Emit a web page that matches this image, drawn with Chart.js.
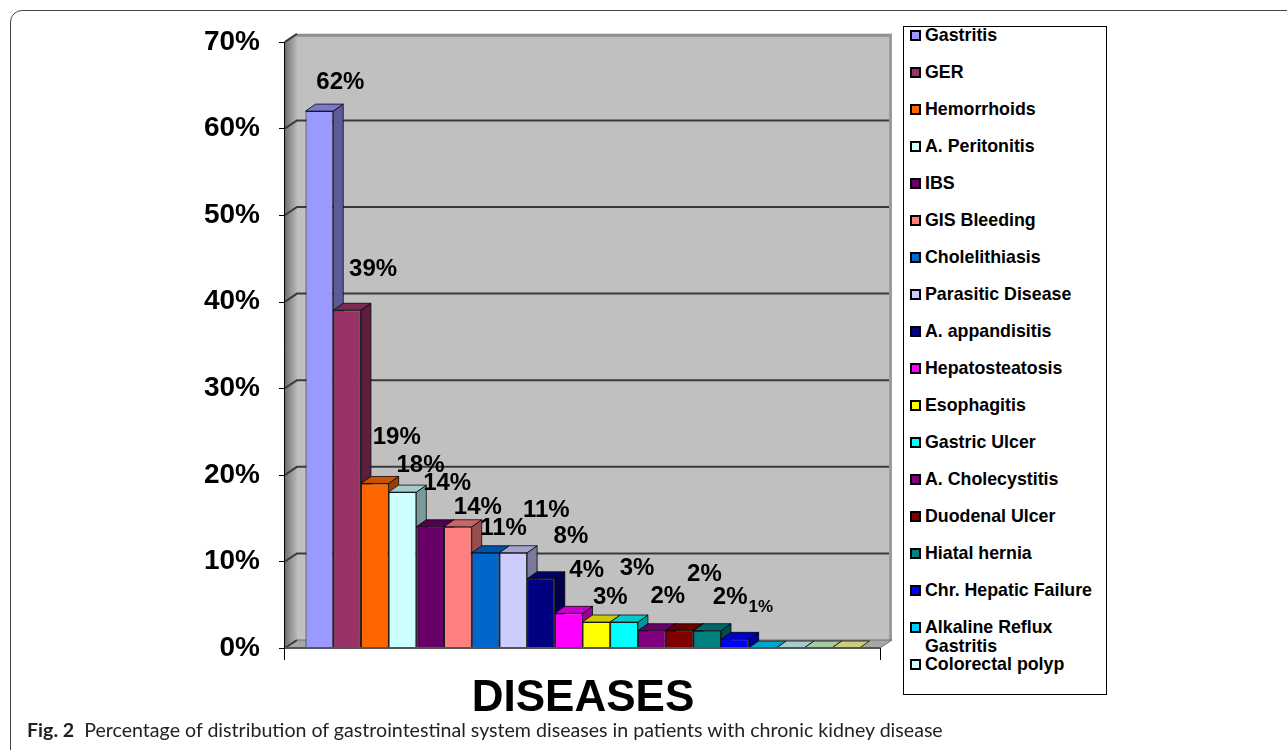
<!DOCTYPE html>
<html>
<head>
<meta charset="utf-8">
<script src="https://cdn.jsdelivr.net/npm/chart.js@4.4.1/dist/chart.umd.min.js"></script>
<style>
  html, body { margin: 0; padding: 0; background: #fff; }
  body { width: 1287px; height: 750px; position: relative; overflow: hidden;
         font-family: "Liberation Sans", Arial, sans-serif; color: #000; }
  #frame { position: absolute; left: 10px; top: 10px; width: 1320px; height: 780px;
           border: 1px solid #444; border-radius: 12px; box-sizing: border-box; }
  #plot { position: absolute; left: 0; top: 0; }
  #axisTitle { position: absolute; left: 383px; width: 400px; top: 672px; text-align: center;
               font-weight: bold; font-size: 44px; line-height: 48px; }
  #legend { position: absolute; left: 903px; top: 26px; width: 204px; height: 669px;
            border: 1px solid #000; box-sizing: border-box; background: #fff; }
  .item { position: absolute; left: 6px; width: 196px; height: 19px;
          font-weight: bold; font-size: 17.8px; line-height: 19px; }
  .sw { position: absolute; left: 0; top: 4px; width: 7px; height: 7px; border: 2px solid #000; }
  .txt { position: absolute; left: 15px; top: 0; white-space: normal; width: 182px; }
  #caption { position: absolute; left: 27px; top: 718px; font-family: Lato, "Open Sans", sans-serif;
             font-size: 19.6px; line-height: 24px; white-space: nowrap; color: #222; }
  #caption b { font-weight: bold; margin-right: 5px; }
</style>
</head>
<body>
<div id="frame"></div>
<canvas id="plot" width="900" height="700"></canvas>
<div id="axisTitle">DISEASES</div>
<div id="legend"></div>
<div id="caption"><b>Fig. 2</b> Percentage of distribution of gastrointestinal system diseases in patients with chronic kidney disease</div>

<script>
// Diseases (series) and their share of patients, in percent
const categories = [
  'Gastritis', 'GER', 'Hemorrhoids', 'A. Peritonitis', 'IBS', 'GIS Bleeding',
  'Cholelithiasis', 'Parasitic Disease', 'A. appandisitis', 'Hepatosteatosis',
  'Esophagitis', 'Gastric Ulcer', 'A. Cholecystitis', 'Duodenal Ulcer',
  'Hiatal hernia', 'Chr. Hepatic Failure', 'Alkaline Reflux Gastritis',
  'Colorectal polyp', '', ''
];
const values = [62, 39, 19, 18, 14, 14, 11, 11, 8, 4, 3, 3, 2, 2, 2, 1, 0, 0, 0, 0];
const yTicks = [0, 10, 20, 30, 40, 50, 60, 70];

// Series colours (classic office palette)
const colors = [
  '#9999FF', '#993366', '#FF6600', '#CCFFFF', '#660066', '#FF8080',
  '#0066CC', '#CCCCFF', '#000080', '#FF00FF', '#FFFF00', '#00FFFF',
  '#800080', '#800000', '#008080', '#0000FF', '#00CCFF', '#CCFFFF',
  '#CCFFCC', '#FFFF99'
];

// Value-label nudges relative to the top-centre of each bar: [dx, dy, fontSize]
const labelNudge = [
  [21, -29, 24], [26, -41, 24], [22, -46, 24], [18, -27, 24], [17, -43, 24],
  [20, -19, 24], [18, -24, 24], [33, -42, 24], [30, -42, 24], [18, -43, 24],
  [14, -25, 24], [13, -54, 24], [16, -34, 24], [25, -56, 24], [23, -33, 24],
  [26, -32, 17]
];

const BAR_DX = 10, BAR_DY = 7;     // bar depth in projection
const WALL_DX = 12, WALL_DY = 8;   // wall depth in projection

function shade(hex, f) {
  const n = parseInt(hex.slice(1), 16);
  const r = Math.round(((n >> 16) & 255) * f);
  const g = Math.round(((n >> 8) & 255) * f);
  const b = Math.round((n & 255) * f);
  return `rgb(${r},${g},${b})`;
}

function poly(ctx, pts, fill, stroke, lw) {
  ctx.beginPath();
  ctx.moveTo(pts[0][0], pts[0][1]);
  for (let i = 1; i < pts.length; i++) ctx.lineTo(pts[i][0], pts[i][1]);
  ctx.closePath();
  if (fill) { ctx.fillStyle = fill; ctx.fill(); }
  if (stroke) { ctx.strokeStyle = stroke; ctx.lineWidth = lw || 1; ctx.stroke(); }
}

// Walls, floor, gridlines and the depth faces of the columns
const depth3d = {
  id: 'depth3d',
  beforeDatasetsDraw(chart) {
    const { ctx, chartArea: a, scales: { y } } = chart;
    ctx.save();
    // back wall
    ctx.fillStyle = '#c0c0c0';
    ctx.fillRect(a.left + WALL_DX, a.top - WALL_DY, a.right - a.left, a.bottom - a.top);
    ctx.fillStyle = '#8e8e8e';
    ctx.fillRect(a.left + WALL_DX, a.top - WALL_DY, a.right - a.left, 3);
    ctx.fillStyle = '#9a9a9a';
    ctx.fillRect(a.right + WALL_DX - 3, a.top - WALL_DY, 3, a.bottom - a.top);
    // left wall
    const g = ctx.createLinearGradient(a.left, 0, a.left + WALL_DX, 0);
    g.addColorStop(0, '#6f6f6f');
    g.addColorStop(0.45, '#939393');
    g.addColorStop(1, '#b8b8b8');
    poly(ctx, [[a.left, a.top], [a.left + WALL_DX, a.top - WALL_DY],
               [a.left + WALL_DX, a.bottom - WALL_DY], [a.left, a.bottom]], g);
    // floor
    poly(ctx, [[a.left, a.bottom], [a.left + WALL_DX, a.bottom - WALL_DY],
               [a.right + WALL_DX, a.bottom - WALL_DY], [a.right, a.bottom]], '#a6a6a6', '#707070', 1);
    // gridlines
    ctx.strokeStyle = '#3a3a3a';
    ctx.lineWidth = 2;
    yTicks.forEach(v => {
      const py = y.getPixelForValue(v);
      ctx.beginPath();
      ctx.moveTo(a.left, py);
      ctx.lineTo(a.left + WALL_DX, py - WALL_DY);
      if (v > 0 && v < 70) ctx.lineTo(a.right + WALL_DX - 3, py - WALL_DY);
      ctx.stroke();
    });
    // side and top faces of every column, left to right
    chart.data.datasets.forEach((ds, i) => {
      const el = chart.getDatasetMeta(i).data[0];
      if (!el) return;
      const l = el.x - el.width / 2, r = el.x + el.width / 2;
      const t = el.y, b = el.base;
      const edge = 'rgba(0,0,0,0.75)';
      if (b - t > 0.5) {
        poly(ctx, [[r, t], [r + BAR_DX, t - BAR_DY], [r + BAR_DX, b - BAR_DY], [r, b]],
             shade(colors[i], 0.6), edge, 1);
      }
      poly(ctx, [[l, t], [l + BAR_DX, t - BAR_DY], [r + BAR_DX, t - BAR_DY], [r, t]],
           shade(colors[i], 0.8), edge, 1);
    });
    ctx.restore();
  },
  afterDatasetsDraw(chart) {
    const { ctx, chartArea: a, scales: { y } } = chart;
    ctx.save();
    // front axis line, tick marks and floor edge
    ctx.strokeStyle = '#000';
    ctx.lineWidth = 1;
    ctx.beginPath();
    ctx.moveTo(a.left - 0.5, a.top);
    ctx.lineTo(a.left - 0.5, a.bottom + 12);
    yTicks.forEach(v => {
      const py = Math.round(y.getPixelForValue(v)) + 0.5;
      ctx.moveTo(a.left - 6, py);
      ctx.lineTo(a.left, py);
    });
    ctx.moveTo(a.right + 0.5, a.bottom);
    ctx.lineTo(a.right + 0.5, a.bottom + 12);
    ctx.stroke();
    ctx.strokeStyle = '#555';
    ctx.lineWidth = 2;
    ctx.beginPath();
    ctx.moveTo(a.left, a.bottom);
    ctx.lineTo(a.right, a.bottom);
    ctx.stroke();
    // value labels
    ctx.fillStyle = '#000';
    ctx.textAlign = 'center';
    ctx.textBaseline = 'middle';
    chart.data.datasets.forEach((ds, i) => {
      const v = ds.data[0];
      if (!v || !labelNudge[i]) return;
      const el = chart.getDatasetMeta(i).data[0];
      const [dx, dy, fs] = labelNudge[i];
      ctx.font = `bold ${fs}px "Liberation Sans", Arial, sans-serif`;
      ctx.fillText(v + '%', el.x + dx, el.y + dy);
    });
    ctx.restore();
  }
};

new Chart(document.getElementById('plot'), {
  type: 'bar',
  data: {
    labels: [''],
    datasets: categories.map((name, i) => ({
      label: name,
      data: [values[i]],
      backgroundColor: colors[i],
      borderColor: '#1a1a1a',
      borderWidth: 1,
      categoryPercentage: 0.931,
      barPercentage: 1
    }))
  },
  options: {
    responsive: false,
    animation: false,
    events: [],
    layout: { padding: { left: 0, right: 20, top: 39, bottom: 52 } },
    plugins: { legend: { display: false }, tooltip: { enabled: false } },
    scales: {
      x: { display: false },
      y: {
        min: 0, max: 70,
        afterFit(s) { s.width = 285; },
        grid: { display: false, drawTicks: false },
        border: { display: false },
        ticks: {
          stepSize: 10, padding: 25, color: '#000',
          font: { family: '"Liberation Sans", Arial, sans-serif', size: 28, weight: 'bold' },
          callback: v => v + '%'
        }
      }
    }
  },
  plugins: [depth3d]
});

// Legend listing the named series
const legend = document.getElementById('legend');
categories.forEach((name, i) => {
  if (!name) return;
  const item = document.createElement('div');
  item.className = 'item';
  item.style.top = (35 + 37 * i - 9.5 - 27) + 'px';
  const sw = document.createElement('div');
  sw.className = 'sw';
  sw.style.background = colors[i];
  const txt = document.createElement('div');
  txt.className = 'txt';
  txt.textContent = name;
  item.appendChild(sw);
  item.appendChild(txt);
  legend.appendChild(item);
});
</script>
</body>
</html>
